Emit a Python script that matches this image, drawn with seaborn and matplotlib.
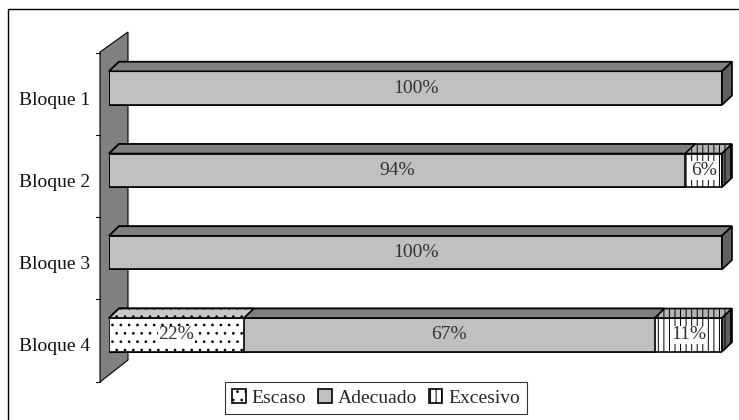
import matplotlib
matplotlib.use("Agg")
import pandas as pd
import matplotlib.pyplot as plt
import seaborn as sns
from matplotlib.patches import Polygon, Patch, Rectangle
from matplotlib.lines import Line2D
from matplotlib.transforms import ScaledTranslation, IdentityTransform

# data (percent)
bloques = ["Bloque 1", "Bloque 2", "Bloque 3", "Bloque 4"]
series = ["Escaso", "Adecuado", "Excesivo"]
escaso = [0, 0, 0, 22]
adecuado = [100, 94, 100, 67]
excesivo = [0, 6, 0, 11]

sns.set_style("white")
plt.rcParams["font.family"] = ["Liberation Serif", "DejaVu Serif"]
plt.rcParams["hatch.linewidth"] = 0.7

df = pd.DataFrame({"bloque": bloques, "Escaso": escaso,
                   "Adecuado": adecuado, "Excesivo": excesivo})
# cumulative widths, drawn widest first so later layers sit on top
df["c_Escaso"] = df["Escaso"] / 100
df["c_Adecuado"] = (df["Escaso"] + df["Adecuado"]) / 100
df["c_Excesivo"] = (df["Escaso"] + df["Adecuado"] + df["Excesivo"]) / 100

style = {
    "Escaso":   dict(front="white",   top="#c8c8c8", side="#c8c8c8", hatch=".."),
    "Adecuado": dict(front="#c0c0c0", top="#808080", side="#606060", hatch=None),
    "Excesivo": dict(front="white",   top="#b4b4b4", side="#606060", hatch="|||"),
}
LW = 1.2

fig = plt.figure(figsize=(7.39, 4.20), dpi=100)
ax = fig.add_axes([109 / 739, 1 - 376 / 420, 613 / 739, 329 / 420])

drawn = []
for k, name in enumerate(["Excesivo", "Adecuado", "Escaso"]):
    n0 = len(ax.patches)
    sns.barplot(data=df, x="c_" + name, y="bloque", orient="h", ax=ax,
                color=style[name]["front"], saturation=1, errorbar=None,
                width=0.41, edgecolor="black", linewidth=LW,
                hatch=style[name]["hatch"])
    pts = ax.patches[n0:]
    for p in pts:
        p.set_zorder(2 + 2 * k)
    drawn.append((name, list(pts)))

ax.set_xlim(0, 1)
ax.set_ylim(3.5, -0.5)
ax.set_autoscale_on(False)
ax.set_xlabel("")
ax.set_ylabel("")
ax.set_xticks([])
for s in ax.spines.values():
    s.set_visible(False)
ax.patch.set_visible(False)

dx, dy = 10, 9.5
ident = IdentityTransform()


def box(p):
    a = ax.transData.transform((p.get_x(), p.get_y()))
    b = ax.transData.transform((p.get_x() + p.get_width(), p.get_y() + p.get_height()))
    return a[0], b[0], max(a[1], b[1]), min(a[1], b[1])


# top faces (3D look)
for name, pts in drawn:
    st = style[name]
    for p in pts:
        if p.get_width() <= 0:
            continue
        l, r, t, b = box(p)
        face = Polygon([(l, t), (r, t), (r + dx, t + dy), (l + dx, t + dy)],
                       closed=True, transform=ident, facecolor=st["top"],
                       edgecolor="black", lw=LW, hatch=st["hatch"],
                       zorder=p.get_zorder(), clip_on=False)
        ax.add_patch(face)

# side faces at the right end, styled by the last non-zero series
vals = {"Escaso": escaso, "Adecuado": adecuado, "Excesivo": excesivo}
for i, p in enumerate(drawn[0][1]):
    last = [s for s in series if vals[s][i] > 0][-1]
    st = style[last]
    l, r, t, b = box(p)
    side = Polygon([(r, b), (r, t), (r + dx, t + dy), (r + dx, b + dy)],
                   closed=True, transform=ident, facecolor=st["side"],
                   edgecolor="black", lw=LW, hatch=st["hatch"],
                   zorder=10, clip_on=False)
    ax.add_patch(side)

# grey wall on the left
axl, axb = ax.transAxes.transform((0, 0))
axr, axt = ax.transAxes.transform((1, 1))
wall = Polygon([(axl - 9, axt - 5), (axl + 19, axt + 15),
                (axl + 19, axb + 16), (axl - 9, axb - 6)],
               closed=True, transform=ident, facecolor="#808080",
               edgecolor="black", lw=0.8, zorder=0.5, clip_on=False)
ax.add_patch(wall)
for yb in [-0.5, 0.5, 1.5, 2.5, 3.5]:
    yy = ax.transData.transform((0, yb))[1] - 5.5
    ax.add_line(Line2D([axl - 13, axl - 9], [yy, yy], transform=ident,
                       color="black", lw=0.8, clip_on=False))

# category labels
ax.set_yticks(range(len(bloques)))
ax.set_yticklabels(bloques)
ax.tick_params(axis="y", length=0, pad=13.7, labelsize=14, labelcolor="#111111")
for lab in ax.get_yticklabels():
    lab.set_transform(lab.get_transform() + ScaledTranslation(0, -7.2 / 72, fig.dpi_scale_trans))

# percentage labels
for i in range(len(bloques)):
    start = 0
    for s in series:
        v = vals[s][i]
        if v > 0:
            kw = {}
            if style[s]["hatch"]:
                kw["bbox"] = dict(facecolor="white", edgecolor="none", pad=0.5)
            ax.text((start + v / 2) / 100, i, f"{v}%", ha="center", va="center",
                    fontsize=14, color="#333333", zorder=12, **kw)
        start += v

# legend
handles = [Patch(facecolor=style[s]["front"], edgecolor="black",
                 hatch=style[s]["hatch"], lw=LW, label=s) for s in series]
leg = fig.legend(handles=handles, loc="center", bbox_to_anchor=(376 / 739, 1 - 398 / 420),
                 ncol=3, frameon=True, fancybox=False, edgecolor="black",
                 fontsize=14, handlelength=0.7, handleheight=0.7,
                 handletextpad=0.3, columnspacing=0.6, borderpad=0.35)
leg.get_frame().set_linewidth(0.8)

# outer chart border
fig.add_artist(Rectangle((7.5 / 739, -0.05), 1.1, 1 - 9 / 420 + 0.05,
                         transform=fig.transFigure, fill=False,
                         edgecolor="black", lw=1))

fig.savefig("out.png", dpi=100)
